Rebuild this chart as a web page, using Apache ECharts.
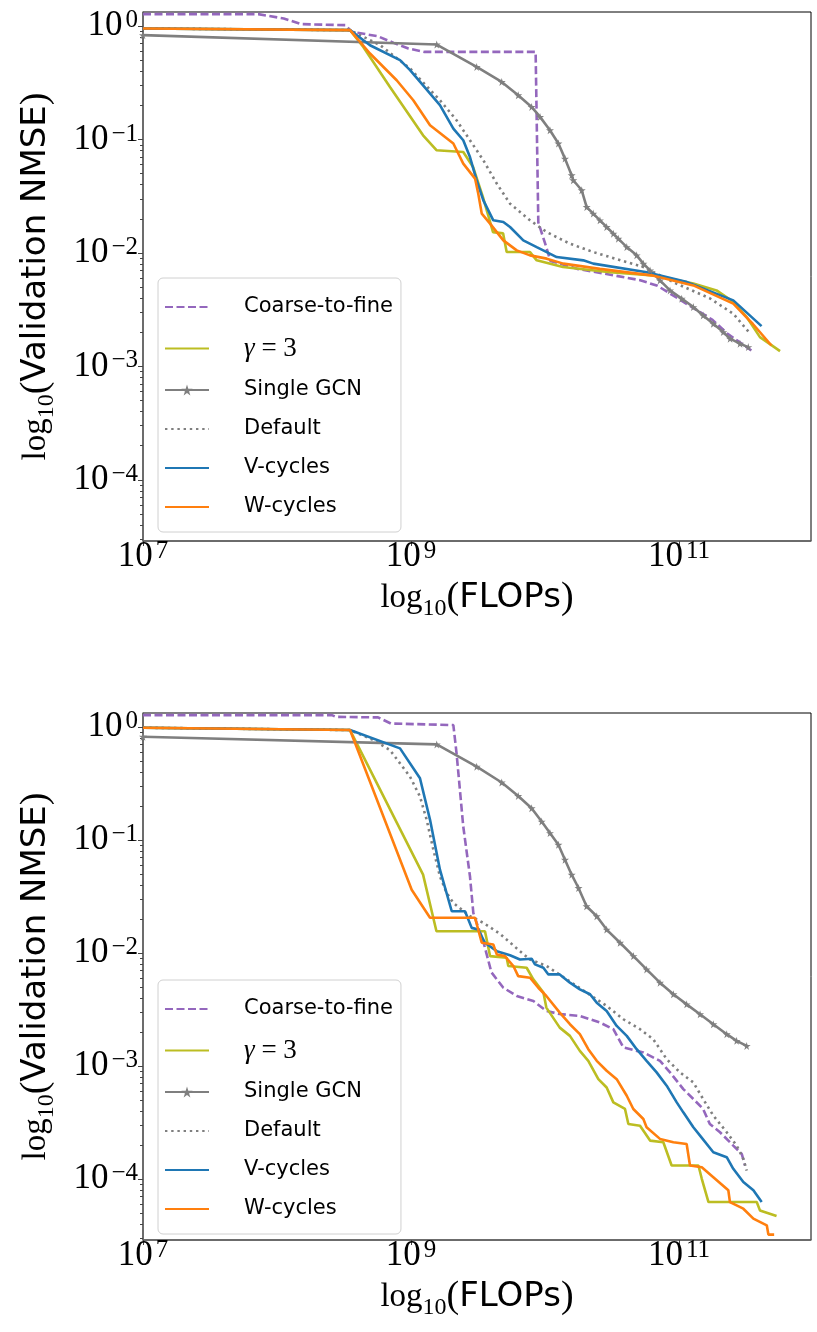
<!DOCTYPE html>
<html>
<head>
<meta charset="utf-8">
<script src="https://cdn.jsdelivr.net/npm/echarts@6/dist/echarts.min.js"></script>
<style>
  html, body { margin: 0; padding: 0; background: #fff; }
  #chart { width: 817px; height: 1332px; }
</style>
</head>
<body>
<div id="chart"></div>
<script>
// all values are log10 exponents: [log10(FLOPs), log10(Validation NMSE)]
const seriesNames = ["Coarse-to-fine", "γ = 3", "Single GCN", "Default", "V-cycles", "W-cycles"];
const xTickExps = [7, 9, 11];
const yTickExps = [-4, -3, -2, -1, 0];
const minorMultipliers = [2, 3, 4, 5, 6, 7, 8, 9];

// ---- top panel ----
const topCoarse = [[7.0,0.106],[7.86,0.106],[8.05,0.068],[8.18,0.018],[8.51,0.009],[8.56,-0.05],[8.75,-0.088],[8.87,-0.147],[8.98,-0.197],[9.10,-0.227],[9.93,-0.227],[9.95,-1.73],[10.01,-1.95],[10.04,-2.07],[10.24,-2.14],[10.43,-2.18],[10.71,-2.24],[10.84,-2.29],[11.10,-2.48],[11.25,-2.59],[11.36,-2.71],[11.54,-2.86]];
const topGamma = [[7.0,-0.02],[8.545,-0.035],[8.644,-0.183],[8.843,-0.536],[9.09,-0.962],[9.19,-1.094],[9.39,-1.109],[9.463,-1.242],[9.537,-1.507],[9.612,-1.816],[9.687,-1.827],[9.714,-1.992],[9.888,-1.992],[9.938,-2.065],[10.134,-2.124],[10.485,-2.17],[10.83,-2.20],[11.107,-2.27],[11.28,-2.33],[11.405,-2.43],[11.505,-2.566],[11.604,-2.742],[11.754,-2.866]];
const topSingle = [[7.0,-0.079],[9.192,-0.162],[9.49,-0.359],[9.677,-0.492],[9.80,-0.609],[9.90,-0.712],[9.963,-0.80],[10.037,-0.918],[10.10,-1.035],[10.149,-1.168],[10.199,-1.315],[10.211,-1.359],[10.274,-1.447],[10.311,-1.595],[10.36,-1.653],[10.41,-1.712],[10.46,-1.771],[10.51,-1.83],[10.547,-1.874],[10.61,-1.948],[10.684,-2.021],[10.734,-2.094],[10.784,-2.154],[10.858,-2.242],[10.933,-2.33],[11.02,-2.403],[11.107,-2.477],[11.18,-2.551],[11.256,-2.624],[11.33,-2.698],[11.381,-2.756],[11.455,-2.80],[11.517,-2.83]];
const topDefault = [[7.0,-0.02],[8.545,-0.035],[8.77,-0.168],[8.993,-0.373],[9.216,-0.653],[9.34,-0.83],[9.44,-1.006],[9.54,-1.183],[9.64,-1.388],[9.739,-1.565],[9.888,-1.712],[10.013,-1.816],[10.11,-1.874],[10.186,-1.918],[10.36,-1.992],[10.734,-2.124],[10.98,-2.27],[11.23,-2.40],[11.405,-2.536],[11.53,-2.71]];
const topV = [[7.0,-0.02],[8.545,-0.035],[8.694,-0.168],[8.918,-0.30],[8.993,-0.388],[9.216,-0.697],[9.316,-0.903],[9.39,-1.006],[9.44,-1.154],[9.49,-1.359],[9.54,-1.536],[9.614,-1.712],[9.689,-1.727],[9.739,-1.771],[9.838,-1.889],[9.938,-1.948],[10.013,-1.992],[10.087,-2.036],[10.286,-2.065],[10.36,-2.094],[10.76,-2.17],[11.06,-2.257],[11.405,-2.418],[11.616,-2.645]];
const topW = [[7.0,-0.02],[8.545,-0.035],[8.694,-0.241],[8.893,-0.477],[9.017,-0.653],[9.142,-0.874],[9.316,-1.035],[9.39,-1.212],[9.478,-1.344],[9.502,-1.477],[9.528,-1.653],[9.59,-1.741],[9.689,-1.889],[9.789,-1.977],[9.888,-2.021],[10.013,-2.05],[10.137,-2.094],[10.41,-2.14],[10.81,-2.20],[11.107,-2.286],[11.405,-2.447],[11.55,-2.624],[11.69,-2.816]];

// ---- bottom panel ----
const botCoarse = [[7.0,0.106],[8.41,0.106],[8.44,0.091],[8.754,0.086],[8.85,0.032],[9.316,0.018],[9.34,-0.232],[9.39,-0.88],[9.44,-1.32],[9.465,-1.644],[9.49,-1.733],[9.54,-1.90],[9.60,-2.17],[9.689,-2.307],[9.789,-2.38],[9.913,-2.424],[10.01,-2.513],[10.11,-2.54],[10.26,-2.557],[10.41,-2.615],[10.51,-2.674],[10.585,-2.836],[10.734,-2.88],[10.858,-2.954],[10.933,-3.056],[11.032,-3.204],[11.107,-3.292],[11.18,-3.38],[11.23,-3.513],[11.306,-3.586],[11.405,-3.704],[11.468,-3.778],[11.493,-3.881]];
const botGamma = [[7.0,-0.005],[8.545,-0.026],[9.09,-1.306],[9.19,-1.807],[9.552,-1.807],[9.59,-2.027],[9.714,-2.042],[9.726,-2.115],[9.863,-2.13],[9.913,-2.233],[9.988,-2.35],[10.01,-2.483],[10.11,-2.66],[10.186,-2.733],[10.26,-2.866],[10.323,-2.954],[10.398,-3.116],[10.46,-3.19],[10.51,-3.322],[10.597,-3.38],[10.622,-3.513],[10.709,-3.528],[10.784,-3.66],[10.883,-3.675],[10.945,-3.881],[11.145,-3.881],[11.17,-3.998],[11.22,-4.204],[11.58,-4.204],[11.604,-4.278],[11.728,-4.328]];
const botSingle = [[7.0,-0.085],[9.192,-0.153],[9.49,-0.35],[9.677,-0.49],[9.80,-0.609],[9.90,-0.718],[9.975,-0.836],[10.037,-0.938],[10.10,-1.041],[10.149,-1.174],[10.199,-1.306],[10.25,-1.424],[10.31,-1.586],[10.386,-1.674],[10.46,-1.792],[10.56,-1.909],[10.66,-2.027],[10.758,-2.145],[10.858,-2.262],[10.958,-2.365],[11.057,-2.454],[11.157,-2.542],[11.256,-2.63],[11.356,-2.718],[11.43,-2.777],[11.505,-2.822]];
const botDefault = [[7.0,-0.005],[8.545,-0.026],[8.72,-0.115],[8.843,-0.203],[8.993,-0.439],[9.067,-0.615],[9.117,-0.821],[9.167,-1.086],[9.216,-1.321],[9.266,-1.468],[9.316,-1.556],[9.44,-1.674],[9.54,-1.733],[9.664,-1.83],[9.813,-1.983],[9.888,-2.057],[10.013,-2.115],[10.162,-2.233],[10.31,-2.35],[10.46,-2.468],[10.585,-2.586],[10.709,-2.674],[10.808,-2.763],[10.908,-2.939],[11.007,-3.056],[11.107,-3.145],[11.18,-3.292],[11.256,-3.439],[11.356,-3.586],[11.43,-3.704],[11.48,-3.822],[11.505,-3.925]];
const botV = [[7.0,-0.005],[8.545,-0.026],[8.918,-0.188],[9.067,-0.453],[9.142,-0.821],[9.216,-1.262],[9.304,-1.63],[9.403,-1.63],[9.453,-1.777],[9.502,-1.792],[9.552,-1.909],[9.64,-1.983],[9.739,-2.02],[9.813,-2.057],[9.90,-2.05],[9.925,-2.10],[9.988,-2.13],[10.025,-2.189],[10.11,-2.189],[10.186,-2.262],[10.26,-2.321],[10.336,-2.365],[10.386,-2.439],[10.46,-2.513],[10.535,-2.645],[10.61,-2.733],[10.684,-2.851],[10.758,-2.954],[10.833,-3.056],[10.908,-3.174],[10.983,-3.322],[11.032,-3.41],[11.107,-3.542],[11.157,-3.616],[11.256,-3.763],[11.356,-3.807],[11.405,-3.91],[11.48,-4.027],[11.555,-4.10],[11.617,-4.204]];
const botW = [[7.0,-0.005],[8.545,-0.026],[9.005,-1.439],[9.142,-1.688],[9.478,-1.688],[9.528,-1.909],[9.614,-1.924],[9.64,-2.012],[9.70,-2.027],[9.764,-2.115],[9.80,-2.204],[9.888,-2.218],[9.95,-2.307],[10.01,-2.38],[10.11,-2.527],[10.186,-2.63],[10.26,-2.718],[10.323,-2.851],[10.386,-2.954],[10.46,-3.042],[10.535,-3.116],[10.61,-3.263],[10.659,-3.38],[10.734,-3.469],[10.758,-3.542],[10.858,-3.645],[10.958,-3.675],[11.057,-3.69],[11.082,-3.881],[11.17,-3.896],[11.256,-3.984],[11.368,-4.10],[11.38,-4.204],[11.48,-4.263],[11.555,-4.351],[11.655,-4.41],[11.667,-4.492],[11.71,-4.492]];

const panels = [
  [topCoarse, topGamma, topSingle, topDefault, topV, topW],
  [botCoarse, botGamma, botSingle, botDefault, botV, botW]
];

const X_MIN = 7, X_MAX = 11.985;
const Y_MIN = -4.54, Y_MAX = 0.125;
const SERIF = "Liberation Serif";
const SANS = "DejaVu Sans";
const STAR = "path://M50,0 L61,35 L98,35 L68,57 L79,91 L50,70 L21,91 L32,57 L2,35 L39,35 Z";

const styles = [
  { color: "#9467bd", type: [8, 3.5], width: 2.6 },
  { color: "#bcbd22", type: "solid", width: 2.6 },
  { color: "#7f7f7f", type: "solid", width: 2.6, star: true },
  { color: "#7f7f7f", type: [2.4, 3.8], width: 2.6 },
  { color: "#1f77b4", type: "solid", width: 2.6 },
  { color: "#ff7f0e", type: "solid", width: 2.6 }
];

const minorTicks = [];
for (let k = -5; k <= 0; k++) {
  minorMultipliers.forEach(function (m) {
    const v = k + Math.log10(m);
    if (v > Y_MIN && v < Y_MAX) minorTicks.push(v);
  });
}

function expText(e) {
  return e < 0 ? "\u2212" + (-e) : String(e);
}
const powRich = {
  b: { fontFamily: SERIF, fontSize: 35, lineHeight: 36, color: "#000" },
  p: { fontFamily: SERIF, fontSize: 25, lineHeight: 12, verticalAlign: "top", padding: [0, 0, 0, 3], color: "#000" }
};
const nameRich = {
  l: { fontFamily: SERIF, fontSize: 33, lineHeight: 46, color: "#000" },
  q: { fontFamily: SERIF, fontSize: 38, lineHeight: 46, color: "#000" },
  s: { fontFamily: SERIF, fontSize: 24, lineHeight: 26, verticalAlign: "bottom", color: "#000" },
  t: { fontFamily: SANS, fontSize: 34, lineHeight: 46, color: "#000" }
};

const gridTops = [12, 713];
const gridHeights = [529, 527];
const legendTops = [278, 980];

const legendData = seriesNames.map(function (n) {
  return n === "Single GCN" ? { name: n, itemStyle: { opacity: 1 } } : { name: n };
});

const grids = [], xAxes = [], yAxes = [], legends = [], series = [];
for (let g = 0; g < 2; g++) {
  grids.push({ left: 143, top: gridTops[g], width: 668, height: gridHeights[g],
    show: true, borderColor: "#000", borderWidth: 1, backgroundColor: "#fff" });
  xAxes.push({
    type: "value", gridIndex: g, min: X_MIN, max: X_MAX,
    axisLine: { show: true, onZero: false, lineStyle: { color: "#666", width: 1.5 } },
    axisTick: { show: true, length: 5, customValues: xTickExps, lineStyle: { color: "#444" } },
    axisLabel: { customValues: xTickExps, margin: -2, rich: powRich,
      formatter: function (v) { return "{b|10}{p|" + expText(Math.round(v)) + "}"; } },
    splitLine: { show: false },
    name: "{l|log}{s|10}{q|(}{t|FLOPs}{q|)}",
    nameLocation: "middle", nameGap: 34,
    nameTextStyle: { rich: nameRich }
  });
  yAxes.push({
    type: "value", gridIndex: g, min: Y_MIN, max: Y_MAX, position: "left", offset: 0,
    axisLine: { show: true, onZero: false, lineStyle: { color: "#666", width: 1.5 } },
    axisTick: { show: true, length: 5, customValues: yTickExps, lineStyle: { color: "#444" } },
    axisLabel: { customValues: yTickExps, margin: 5, rich: powRich,
      formatter: function (v) { return "{b|10}{p|" + expText(Math.round(v)) + "}"; } },
    splitLine: { show: false },
    name: "{l|log}{s|10}{q|(}{t|Validation NMSE}{q|)}",
    nameLocation: "middle", nameGap: 84, nameRotate: 90,
    nameTextStyle: { rich: nameRich }
  });
  yAxes.push({
    type: "value", gridIndex: g, min: Y_MIN, max: Y_MAX, position: "left", offset: 0,
    axisLine: { show: false, onZero: false },
    axisTick: { show: true, length: 3, customValues: minorTicks, lineStyle: { color: "#444" } },
    axisLabel: { show: false },
    splitLine: { show: false }
  });
  legends.push({
    data: legendData, orient: "vertical", left: 158, top: legendTops[g],
    padding: [18, 8, 14, 6], itemGap: 17, itemWidth: 44, itemHeight: 14,
    backgroundColor: "rgba(255,255,255,0.85)", borderColor: "#d0d0d0", borderWidth: 1, borderRadius: 5,
    selectedMode: false,
    itemStyle: { opacity: 0 },
    textStyle: { fontFamily: SANS, fontSize: 21, lineHeight: 22, color: "#000", padding: [0, 0, 0, 30],
      rich: {
        g: { fontFamily: SERIF, fontStyle: "italic", fontSize: 27, color: "#000" },
        e: { fontFamily: SERIF, fontSize: 27, color: "#000" }
      } },
    formatter: function (name) {
      return name === "γ = 3" ? "{g|γ}{e| = 3}" : name;
    }
  });
  panels[g].forEach(function (data, i) {
    const st = styles[i];
    series.push({
      type: "line", name: seriesNames[i], xAxisIndex: g, yAxisIndex: g * 2,
      data: data,
      symbol: st.star ? STAR : "none",
      symbolSize: st.star ? 8 : 0,
      showSymbol: !!st.star,
      lineStyle: { color: st.color, width: st.width, type: st.type, cap: "butt" },
      itemStyle: { color: st.color },
      emphasis: { disabled: true },
      animation: false, clip: true
    });
  });
}

const chart = echarts.init(document.getElementById("chart"), null, { renderer: "canvas" });
chart.setOption({
  backgroundColor: "#fff",
  animation: false,
  grid: grids, xAxis: xAxes, yAxis: yAxes, legend: legends, series: series
});
</script>
</body>
</html>
